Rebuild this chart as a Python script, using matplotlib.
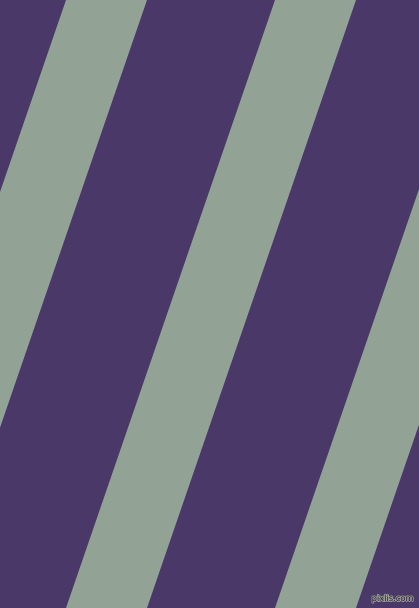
import matplotlib
matplotlib.use('Agg')
import matplotlib.pyplot as plt
import matplotlib.patheffects as pe

# canvas size in pixels
width_px = 419
height_px = 608

# colours
bg_color = '#4a3868'
stripe_color = '#92a396'

# stripe left edges along the top row, stripe width and horizontal drift top->bottom
stripe_starts = [66, 275, 484]
stripe_width = 81
stripe_drift = 209

fig = plt.figure(figsize=(width_px / 100, height_px / 100), dpi=100)
ax = fig.add_axes([0, 0, 1, 1])
ax.set_xlim(0, width_px)
ax.set_ylim(height_px, 0)
ax.axis('off')
fig.patch.set_facecolor(bg_color)
ax.set_facecolor(bg_color)

# draw the slanted stripes
for x0 in stripe_starts:
    xs = [x0, x0 + stripe_width, x0 + stripe_width - stripe_drift, x0 - stripe_drift]
    ys = [0, 0, height_px, height_px]
    ax.fill(xs, ys, color=stripe_color, linewidth=0)

# watermark
txt = ax.text(width_px - 5, height_px - 5, 'pixlis.com', ha='right', va='bottom',
              fontsize=6, color='#2a2a2a', family='DejaVu Sans')
txt.set_path_effects([pe.withStroke(linewidth=1.2, foreground='#9a9a9a')])

fig.savefig('out.png', dpi=100, facecolor=bg_color)
